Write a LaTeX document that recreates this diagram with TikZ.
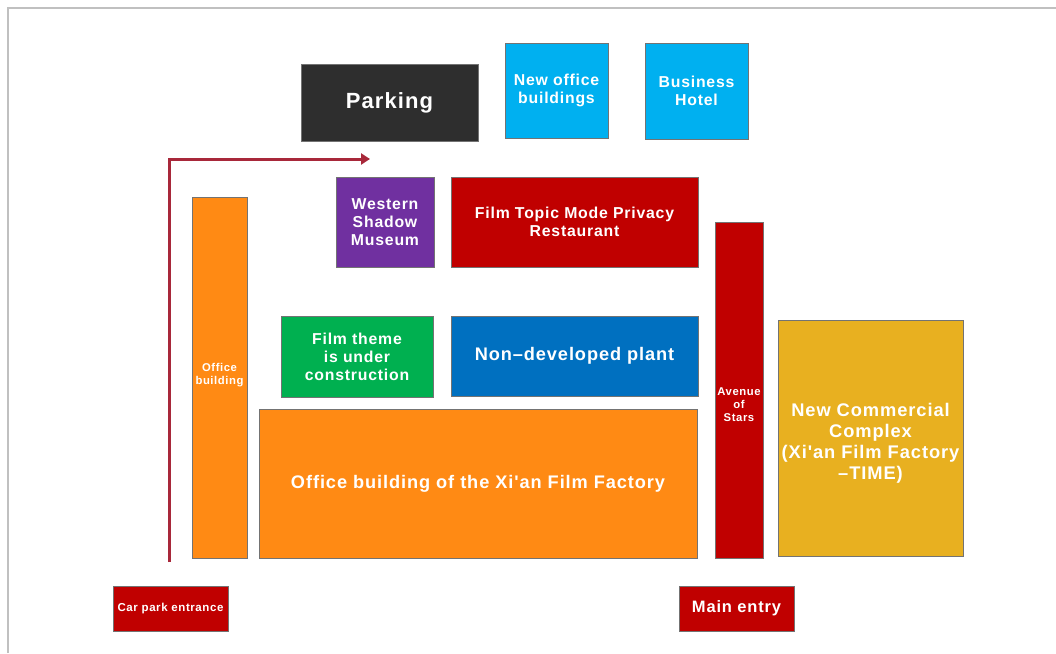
\documentclass[tikz,border=0pt]{standalone}
\usepackage{fontspec}
\usetikzlibrary{arrows.meta}
\newfontfamily\blockfont[LetterSpace=5]{Liberation Sans Bold}
\definecolor{parkgray}{HTML}{2E2E2E}
\definecolor{skyblue}{HTML}{00B0F0}
\definecolor{museum}{HTML}{7030A0}
\definecolor{deepred}{HTML}{C00000}
\definecolor{office}{HTML}{FF8A14}
\definecolor{theme}{HTML}{00B050}
\definecolor{plant}{HTML}{0070C0}
\definecolor{gold}{HTML}{E8B020}
\definecolor{route}{HTML}{A8283A}
\definecolor{frame}{HTML}{C0C0C0}
\tikzset{
  block/.style={draw=black!55, line width=0.7pt, inner sep=0pt, text=white,
    align=center},
  lbl/.style={inner sep=0pt, text=white, align=center},
  fsA/.style={font={\blockfont\fontsize{22}{26}\selectfont}},
  fsB/.style={font={\blockfont\fontsize{15.8}{18}\selectfont}},
  fsC/.style={font={\blockfont\fontsize{18.2}{21}\selectfont}},
  fsD/.style={font={\blockfont\fontsize{11.3}{13}\selectfont}},
  fsE/.style={font={\blockfont\fontsize{11.5}{13}\selectfont}},
  fsF/.style={font={\blockfont\fontsize{16.5}{20}\selectfont}},
  fsG/.style={font={\blockfont\fontsize{18.3}{21}\selectfont}},
}
\begin{document}
\begin{tikzpicture}[x=1pt,y=-1pt]
\useasboundingbox (0,0) rectangle (1056,653);
% page frame (top and left edges)
\draw[frame, line width=1.5pt] (8,653) -- (8,8) -- (1056,8);

% top row
\node[block, fill=parkgray, fsA, minimum width=177, minimum height=77] (parking) at (389.5,102.5) {Parking};
\node[block, fill=skyblue, fsB, minimum width=103, minimum height=95] (newoffice) at (556.5,90.5) {New office\\buildings};
\node[block, fill=skyblue, fsB, minimum width=103, minimum height=96] (hotel) at (696.5,91) {Business\\Hotel};

% second row
\node[block, fill=museum, fsB, minimum width=98, minimum height=90] (museum) at (385,222) {Western\\Shadow\\Museum};
\node[block, fill=deepred, fsB, minimum width=247, minimum height=90] (restaurant) at (574.5,222) {Film Topic Mode Privacy\\Restaurant};

% third row
\node[block, fill=theme, fsB, minimum width=152, minimum height=81] (filmtheme) at (357,356.5) {Film theme\\is under\\construction};
\node[block, fill=plant, fsC, minimum width=247, minimum height=80] (plant) at (574.5,356) {Non–developed plant};

% office blocks
\node[block, fill=office, minimum width=55, minimum height=361] (officebar) at (219.5,377.5) {};
\node[lbl, fsD] (officebartext) at (219.5,375.5) {Office\\building};
\node[block, fill=office, fsC, minimum width=438, minimum height=149] (factory) at (478,483.5) {Office building of the Xi'an Film Factory};

% right side
\node[block, fill=deepred, minimum width=48, minimum height=336] (avenue) at (739,390) {};
\node[lbl, fsD] (avenuetext) at (739,405) {Avenue\\of\\Stars};
\node[block, fill=gold, minimum width=185, minimum height=236] (complex) at (870.5,438) {};
\node[lbl, fsG] (complextext) at (870.5,443.5) {New Commercial\\Complex\\(Xi'an Film Factory\\–TIME)};

% entrances
\node[block, fill=deepred, fsE, minimum width=115, minimum height=45] (carpark) at (170.5,608.5) {Car park entrance};
\node[block, fill=deepred, fsF, minimum width=115, minimum height=45] (mainentry) at (736.5,608.5) {Main entry};

% route from the car park entrance to the parking
\coordinate (routestart) at (169,562);
\coordinate (routecorner) at (169,159);
\coordinate (routeend) at (370,159);
\draw[route, line width=3pt, -{Triangle[length=9pt,width=11pt]}]
  (routestart) -- (routecorner) -- (routeend);
\end{tikzpicture}
\end{document}
